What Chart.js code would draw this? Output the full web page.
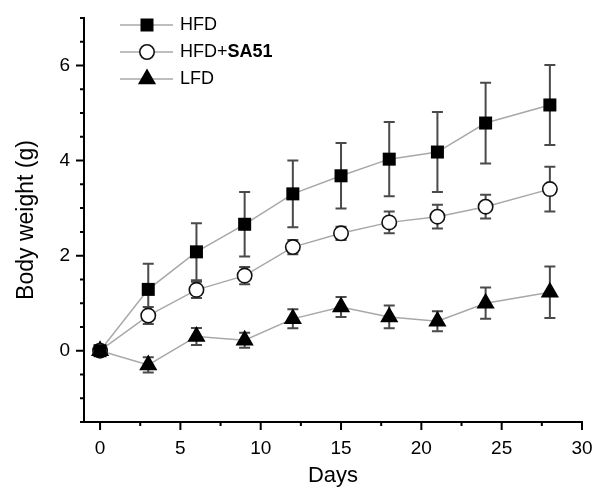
<!DOCTYPE html>
<html>
<head>
<meta charset="utf-8">
<script src="https://cdn.jsdelivr.net/npm/chart.js@4.4.0/dist/chart.umd.min.js"></script>
<style>
  html, body { margin: 0; padding: 0; background: #fff; }
  #wrap { width: 594px; height: 489px; }
</style>
</head>
<body>
<div id="wrap"><canvas id="chart"></canvas></div>
<script>
// datos
const days = [0, 3, 6, 9, 12, 15, 18, 21, 24, 28];

const hfdMean = [0, 1.29, 2.08, 2.66, 3.30, 3.68, 4.03, 4.18, 4.79, 5.17];
const hfdErr  = [0, 0.54, 0.60, 0.68, 0.70, 0.69, 0.78, 0.84, 0.85, 0.84];

const sa51Mean = [0, 0.74, 1.28, 1.58, 2.18, 2.47, 2.70, 2.82, 3.03, 3.40];
const sa51Err  = [0, 0.18, 0.17, 0.18, 0.15, 0.14, 0.23, 0.25, 0.25, 0.47];

const lfdMean = [0, -0.30, 0.30, 0.22, 0.67, 0.92, 0.71, 0.62, 1.00, 1.23];
const lfdErr  = [0, 0.16, 0.18, 0.16, 0.20, 0.21, 0.24, 0.21, 0.33, 0.54];

const xTicks = [0, 5, 10, 15, 20, 25, 30];
const xMinor = [2.5, 7.5, 12.5, 17.5, 22.5, 27.5];
const yTicks = [0, 2, 4, 6];
const yMinor = [-1.5, -1, -0.5, 0.5, 1, 1.5, 2.5, 3, 3.5, 4.5, 5, 5.5, 6.5, 7];

const lineGray = '#a8a8a8';
const errGray = '#4a4a4a';
const FONT = 'Arial, "Liberation Sans", sans-serif';

function toPoints(means) {
  return days.map((d, i) => ({ x: d, y: means[i] }));
}

const datasets = [
  {
    label: 'HFD',
    data: toPoints(hfdMean),
    errors: hfdErr,
    pointStyle: 'rect',
    pointRadius: 9.2,
    backgroundColor: '#000',
    pointBorderColor: '#000',
    pointBorderWidth: 0
  },
  {
    label: 'HFD+SA51',
    data: toPoints(sa51Mean),
    errors: sa51Err,
    pointStyle: 'circle',
    pointRadius: 7.2,
    backgroundColor: '#fff',
    pointBorderColor: '#111',
    pointBorderWidth: 1.6
  },
  {
    label: 'LFD',
    data: toPoints(lfdMean),
    errors: lfdErr,
    pointStyle: 'triangle',
    pointRadius: 10.5,
    backgroundColor: '#000',
    pointBorderColor: '#000',
    pointBorderWidth: 0
  }
].map(ds => Object.assign(ds, {
  borderColor: lineGray,
  borderWidth: 1.5,
  pointBackgroundColor: ds.backgroundColor,
  pointHoverRadius: ds.pointRadius,
  fill: false,
  tension: 0
}));

/**
 * Barras de error dibujadas antes de los datasets
 */
const errorBars = {
  id: 'errorBars',
  beforeDatasetsDraw(chart) {
    const { ctx, scales: { x, y } } = chart;
    ctx.save();
    ctx.strokeStyle = errGray;
    ctx.lineWidth = 2;
    chart.data.datasets.forEach(ds => {
      ds.data.forEach((p, i) => {
        const e = ds.errors[i];
        if (!e) return;
        const px = x.getPixelForValue(p.x);
        const top = y.getPixelForValue(p.y + e);
        const bot = y.getPixelForValue(p.y - e);
        ctx.beginPath();
        ctx.moveTo(px, top);
        ctx.lineTo(px, bot);
        ctx.moveTo(px - 5.5, top);
        ctx.lineTo(px + 5.5, top);
        ctx.moveTo(px - 5.5, bot);
        ctx.lineTo(px + 5.5, bot);
        ctx.stroke();
      });
    });
    ctx.restore();
  }
};

/**
 * Marcas de los ejes (mayores y menores), hacia fuera
 */
const axisTicks = {
  id: 'axisTicks',
  afterDraw(chart) {
    const { ctx, chartArea, scales: { x, y } } = chart;
    ctx.save();
    ctx.strokeStyle = '#000';
    ctx.lineWidth = 2;
    ctx.beginPath();
    xTicks.concat(xMinor).forEach(v => {
      const px = x.getPixelForValue(v);
      const len = xTicks.includes(v) ? 8 : 4;
      ctx.moveTo(px, chartArea.bottom);
      ctx.lineTo(px, chartArea.bottom + len);
    });
    yTicks.concat(yMinor).forEach(v => {
      const py = y.getPixelForValue(v);
      const len = yTicks.includes(v) ? 8 : 4;
      ctx.moveTo(chartArea.left, py);
      ctx.lineTo(chartArea.left - len, py);
    });
    ctx.stroke();
    ctx.restore();
  }
};

/**
 * Leyenda propia (para poner SA51 en negrita)
 */
const customLegend = {
  id: 'customLegend',
  afterDraw(chart) {
    const { ctx } = chart;
    const rows = [25, 52, 79];
    ctx.save();
    chart.data.datasets.forEach((ds, i) => {
      const yy = rows[i];
      ctx.strokeStyle = lineGray;
      ctx.lineWidth = 1.5;
      ctx.beginPath();
      ctx.moveTo(120, yy);
      ctx.lineTo(173, yy);
      ctx.stroke();

      const mx = 147;
      ctx.fillStyle = ds.pointBackgroundColor;
      ctx.strokeStyle = ds.pointBorderColor;
      ctx.lineWidth = ds.pointBorderWidth;
      ctx.beginPath();
      if (ds.pointStyle === 'rect') {
        ctx.rect(mx - 6.5, yy - 6.5, 13, 13);
        ctx.fill();
      } else if (ds.pointStyle === 'circle') {
        ctx.arc(mx, yy, 7.2, 0, Math.PI * 2);
        ctx.fill();
        ctx.stroke();
      } else {
        ctx.moveTo(mx, yy - 10.5);
        ctx.lineTo(mx + 9.1, yy + 5.25);
        ctx.lineTo(mx - 9.1, yy + 5.25);
        ctx.closePath();
        ctx.fill();
      }

      ctx.fillStyle = '#000';
      ctx.textBaseline = 'middle';
      ctx.textAlign = 'left';
      if (ds.label === 'HFD+SA51') {
        ctx.font = '18px ' + FONT;
        ctx.fillText('HFD+', 180, yy);
        const w = ctx.measureText('HFD+').width;
        ctx.font = 'bold 18px ' + FONT;
        ctx.fillText('SA51', 180 + w, yy);
      } else {
        ctx.font = '18px ' + FONT;
        ctx.fillText(ds.label, 180, yy);
      }
    });
    ctx.restore();
  }
};

new Chart(document.getElementById('chart'), {
  type: 'line',
  data: { datasets },
  options: {
    responsive: true,
    maintainAspectRatio: false,
    animation: false,
    layout: { padding: { top: 18, right: 12, left: 0, bottom: 0 } },
    plugins: {
      legend: { display: false },
      tooltip: { enabled: false }
    },
    scales: {
      x: {
        type: 'linear',
        min: -1,
        max: 30,
        afterBuildTicks: s => { s.ticks = xTicks.map(v => ({ value: v })); },
        afterFit: s => {
          s.height = 67;
          s.paddingLeft = 0;
          s.paddingRight = 0;
        },
        grid: { display: false, drawTicks: false },
        border: { display: true, color: '#000', width: 2 },
        ticks: {
          color: '#000',
          padding: 15,
          maxRotation: 0,
          font: { family: FONT, size: 19 }
        },
        title: {
          display: true,
          text: 'Days',
          color: '#000',
          padding: { top: 2, bottom: 0 },
          font: { family: FONT, size: 22 }
        }
      },
      y: {
        type: 'linear',
        min: -1.5,
        max: 7,
        afterBuildTicks: s => { s.ticks = yTicks.map(v => ({ value: v })); },
        afterFit: s => {
          s.width = 84;
          s.paddingTop = 0;
          s.paddingBottom = 0;
        },
        grid: { display: false, drawTicks: false },
        border: { display: true, color: '#000', width: 2 },
        ticks: {
          color: '#000',
          padding: 14,
          font: { family: FONT, size: 19 }
        },
        title: {
          display: true,
          text: 'Body weight (g)',
          color: '#000',
          padding: { top: 13, bottom: 0 },
          font: { family: FONT, size: 23 }
        }
      }
    }
  },
  plugins: [errorBars, axisTicks, customLegend]
});
</script>
</body>
</html>
